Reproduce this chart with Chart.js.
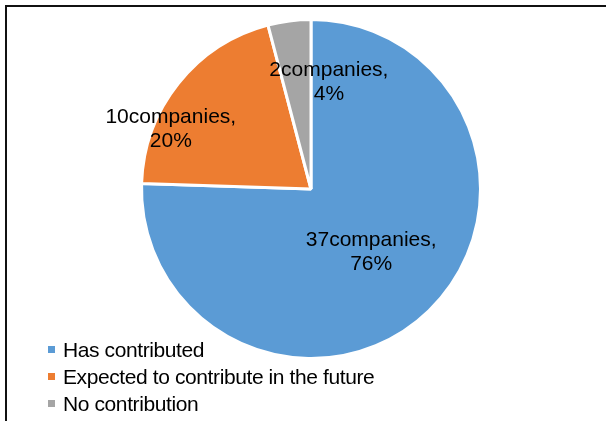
<!DOCTYPE html>
<html>
<head>
<meta charset="utf-8">
<script src="https://cdn.jsdelivr.net/npm/chart.js@4/dist/chart.umd.min.js"></script>
<style>
  html, body { margin: 0; padding: 0; background: #fff; overflow: hidden; }
  #wrap { position: relative; width: 606px; height: 421px; }
  #frame {
    position: absolute; left: 5px; top: 5px; width: 700px; height: 500px;
    border: 2px solid #111; box-sizing: border-box; pointer-events: none;
  }
  #legend {
    position: absolute; left: 48px; top: 336px; margin: 0; padding: 0; list-style: none;
    font-family: "Liberation Sans", Arial, sans-serif; font-size: 21px; letter-spacing: -0.4px; color: #000;
  }
  #legend li { height: 27px; line-height: 27px; white-space: nowrap; }
  #legend span.box {
    display: inline-block; width: 7px; height: 7px; margin-right: 8px; vertical-align: 4px;
  }
</style>
</head>
<body>
<div id="wrap">
  <canvas id="chartPie" width="606" height="421"></canvas>
  <div id="frame"></div>
  <ul id="legend"></ul>
</div>
<script>
const categories = ['Has contributed', 'Expected to contribute in the future', 'No contribution'];
const companies = [37, 10, 2];
const percents = [76, 20, 4];
const colors = ['#5B9BD5', '#ED7D31', '#A5A5A5'];

// label spots around the pie centre: [angle in degrees, fraction of radius]
const labelSpots = [[46.4, 0.515], [203.2, 0.90], [279.5, 0.64]];

const sliceLabels = {
  id: 'sliceLabels',
  afterDatasetsDraw(chart) {
    const ctx = chart.ctx;
    const arcs = chart.getDatasetMeta(0).data;
    ctx.save();
    ctx.font = '21px "Liberation Sans", Arial, sans-serif';
    ctx.fillStyle = '#000';
    ctx.textAlign = 'center';
    ctx.textBaseline = 'middle';
    arcs.forEach((arc, i) => {
      const [deg, frac] = labelSpots[i];
      const a = deg * Math.PI / 180;
      const x = arc.x + Math.cos(a) * arc.outerRadius * frac;
      const y = arc.y + Math.sin(a) * arc.outerRadius * frac;
      ctx.fillText(companies[i] + 'companies,', x, y - 12);
      ctx.fillText(percents[i] + '%', x, y + 12);
    });
    ctx.restore();
  }
};

const chart = new Chart(document.getElementById('chartPie'), {
  type: 'pie',
  data: {
    labels: categories,
    datasets: [{
      data: companies,
      backgroundColor: colors,
      borderColor: '#fff',
      borderWidth: 3
    }]
  },
  options: {
    responsive: false,
    animation: false,
    layout: { padding: { top: 18, bottom: 61, left: 140, right: 124 } },
    plugins: { legend: { display: false }, tooltip: { enabled: false } }
  },
  plugins: [sliceLabels]
});

// legend list built from the chart's own legend items
const ul = document.getElementById('legend');
chart.options.plugins.legend.labels.generateLabels(chart).forEach(item => {
  const li = document.createElement('li');
  const box = document.createElement('span');
  box.className = 'box';
  box.style.background = item.fillStyle;
  li.appendChild(box);
  li.appendChild(document.createTextNode(item.text));
  ul.appendChild(li);
});
</script>
</body>
</html>
